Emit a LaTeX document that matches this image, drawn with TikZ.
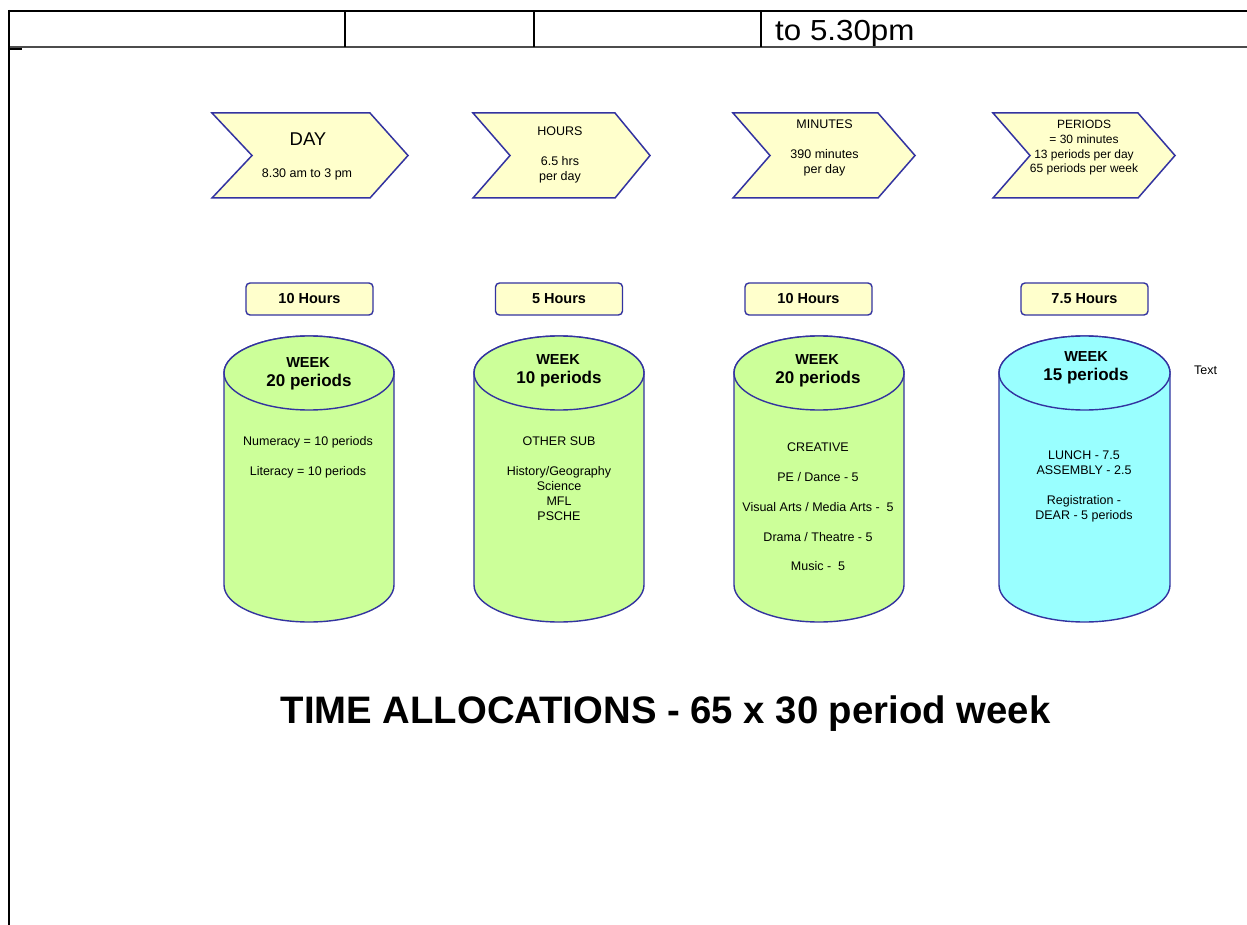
\documentclass[tikz,border=0pt]{standalone}
\usepackage{fontspec}
\setmainfont{Liberation Sans}
\definecolor{edge}{HTML}{3333A0}
\definecolor{chev}{HTML}{FFFFCC}
\definecolor{cylg}{HTML}{CCFF99}
\definecolor{cylc}{HTML}{99FFFF}
\begin{document}
\begin{tikzpicture}[x=1pt,y=-1pt,
 chevron/.style={draw=edge,line width=1.5pt,fill=chev,line join=miter},
 cyl/.style={draw=edge,line width=1.4pt},
 hbox/.style={draw=edge,line width=1.4pt,fill=chev,rounded corners=4pt,minimum width=127pt,minimum height=32pt,inner sep=0pt,font=\fontsize{14.5}{17}\selectfont\bfseries},
 txt/.style={inner sep=0pt,align=center,anchor=north,font=\fontsize{12.5}{15}\selectfont},
 wk/.style={inner sep=0pt,anchor=north,font=\fontsize{14.5}{17}\selectfont\bfseries},
 per/.style={inner sep=0pt,anchor=north,font=\fontsize{17}{20}\selectfont\bfseries},
 tbl/.style={line width=1.8pt,black}]
\useasboundingbox[fill=white] (0,0) rectangle (1247,925);

% table at top
\draw[tbl] (9,11) -- (1247,11);
\draw[line width=1.2pt,black!70] (9,47) -- (1247,47);
\draw[line width=1.5pt] (345,11) -- (345,47);
\draw[line width=1.5pt] (534,11) -- (534,47);
\draw[line width=1.5pt] (761,11) -- (761,47);
\draw[tbl] (9,10) -- (9,925);
\draw[tbl] (9,49) -- (22,49);
\node[inner sep=0pt,anchor=north west,font=\fontsize{29}{32}\selectfont,xscale=1.08] (t530) at (775,20) {to 5.30pm};

% chevrons
\draw[chevron] (212,113) -- (370,113) -- (408,155.5) -- (370,198) -- (212,198) -- (252,155.5) -- cycle;
\draw[chevron] (473,113) -- (615,113) -- (650,155.5) -- (615,198) -- (473,198) -- (510,155.5) -- cycle;
\draw[chevron] (733,113) -- (878,113) -- (915,155.5) -- (878,198) -- (733,198) -- (770,155.5) -- cycle;
\draw[chevron] (993,113) -- (1138,113) -- (1175,155.5) -- (1138,198) -- (993,198) -- (1030,155.5) -- cycle;

\node[inner sep=0pt,anchor=north,font=\fontsize{18.5}{20}\selectfont] (day) at (308,133) {DAY};
\node[txt] (daytxt) at (307,168.5) {8.30 am to 3 pm};
\node[txt] (hours) at (560,127) {HOURS\\[15pt]6.5 hrs\\per day};
\node[txt] (mins) at (824.5,120) {MINUTES\\[15pt]390 minutes\\per day};
\node[txt,font=\fontsize{12}{14.8}\selectfont] (pers) at (1084,120) {PERIODS\\= 30 minutes\\13 periods per day\\65 periods per week};

% hours boxes
\node[hbox] (h1) at (309.5,299) {10 Hours};
\node[hbox] (h2) at (559,299) {5 Hours};
\node[hbox] (h3) at (808.5,299) {10 Hours};
\node[hbox] (h4) at (1084.5,299) {7.5 Hours};

% cylinders
\filldraw[cyl,fill=cylg] (224,373) -- (224,585) arc[start angle=180,end angle=360,x radius=85pt,y radius=37pt] -- (394,373) arc[start angle=0,end angle=180,x radius=85pt,y radius=37pt] -- cycle;
\draw[cyl,fill=cylg] (309,373) ellipse[x radius=85pt,y radius=37pt];
\filldraw[cyl,fill=cylg] (474,373) -- (474,585) arc[start angle=180,end angle=360,x radius=85pt,y radius=37pt] -- (644,373) arc[start angle=0,end angle=180,x radius=85pt,y radius=37pt] -- cycle;
\draw[cyl,fill=cylg] (559,373) ellipse[x radius=85pt,y radius=37pt];
\filldraw[cyl,fill=cylg] (734,373) -- (734,585) arc[start angle=180,end angle=360,x radius=85pt,y radius=37pt] -- (904,373) arc[start angle=0,end angle=180,x radius=85pt,y radius=37pt] -- cycle;
\draw[cyl,fill=cylg] (819,373) ellipse[x radius=85pt,y radius=37pt];
\filldraw[cyl,fill=cylc] (999,373) -- (999,585) arc[start angle=180,end angle=360,x radius=85.5pt,y radius=37pt] -- (1170,373) arc[start angle=0,end angle=180,x radius=85.5pt,y radius=37pt] -- cycle;
\draw[cyl,fill=cylc] (1084.5,373) ellipse[x radius=85.5pt,y radius=37pt];

\node[wk] (w1) at (308,357.8) {WEEK};
\node[per] (p1) at (309,374) {20 periods};
\node[wk] (w2) at (558,354.8) {WEEK};
\node[per] (p2) at (559,371) {10 periods};
\node[wk] (w3) at (817,354.8) {WEEK};
\node[per] (p3) at (818,371) {20 periods};
\node[wk] (w4) at (1086,351.8) {WEEK};
\node[per] (p4) at (1086,368) {15 periods};

\node[txt] (b1) at (308,436.5) {Numeracy = 10 periods\\[15pt]Literacy = 10 periods};
\node[txt] (b2) at (559,436.5) {OTHER SUB\\[15pt]History/Geography\\Science\\MFL\\PSCHE};
\node[txt] (b3) at (818,442.5) {CREATIVE\\[15pt]PE / Dance - 5\\[15pt]Visual Arts / Media Arts - \ 5\\[15pt]Drama / Theatre - 5\\[14pt]Music - \ 5};
\node[txt] (b4) at (1084,450.5) {LUNCH - 7.5\\ASSEMBLY - 2.5\\[15pt]Registration -\\DEAR - 5 periods};
\node[txt] (txtlabel) at (1205.5,365.5) {Text};

% title
\node[inner sep=0pt,anchor=north,font=\fontsize{38.3}{40}\selectfont\bfseries] (title) at (665.5,695.5) {TIME ALLOCATIONS - 65 x 30 period week};
\end{tikzpicture}
\end{document}
